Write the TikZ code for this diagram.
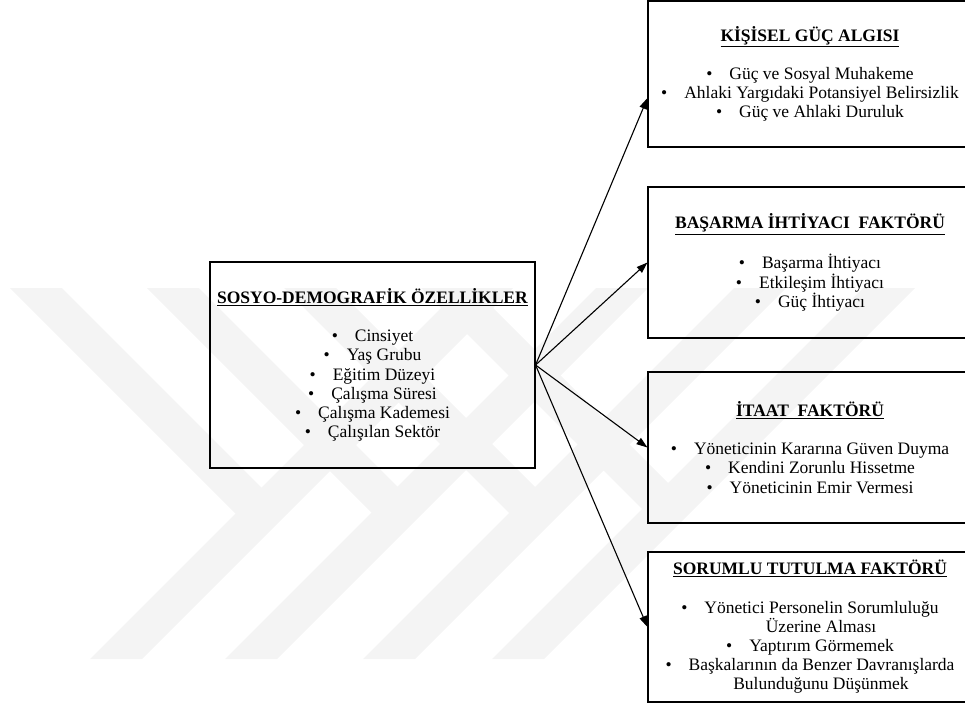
\documentclass[tikz,border=0pt]{standalone}
\usepackage{fontspec}
\setmainfont{Liberation Serif}
\usetikzlibrary{arrows.meta,positioning}
\definecolor{wmgray}{gray}{0.955}
\tikzset{
wmband/.style={fill=wmgray},
facbox/.style={draw, line width=1.1pt, align=center, inner sep=0pt, minimum width=324pt, minimum height=151pt},
srcbox/.style={facbox, minimum width=325pt, minimum height=206pt},
arr/.style={-{Triangle[length=11pt,width=7.5pt]}, line width=1.1pt},
}
\tikzstyle{every node}=[font=\fontsize{17.5}{19.2}\selectfont]
\newcommand{\itm}[1]{\textbullet\hspace{17pt}#1}
\newcommand{\baslik}[1]{\underline{\textbf{#1}}\\[19pt]}

\begin{document}
\begin{tikzpicture}[x=1pt,y=-1pt]
    \useasboundingbox (0,0) rectangle (965,709);

    \foreach \a/\b in {10/90,147/225,284/363,421/492}{
        \pgfmathsetmacro{\mx}{(371+\a+\b)/2}
        \pgfmathsetmacro{\my}{\mx+288-\a}
        \fill[wmband] (\a,288) -- ++(52,0) -- (\mx+52,\my) -- (\mx,\my) -- cycle;
        \fill[wmband] (\b,659) -- ++(52,0) -- (\b+423,288) -- (\b+371,288) -- cycle;
    }

    \node[srcbox] (src) at (372.5,365) {
        \baslik{SOSYO-DEMOGRAFİK ÖZELLİKLER}
        \itm{Cinsiyet}\\
        \itm{Yaş Grubu}\\
        \itm{Eğitim Düzeyi}\\
        \itm{Çalışma Süresi}\\
        \itm{Çalışma Kademesi}\\
        \itm{Çalışılan Sektör}};

    \node[facbox, minimum height=146pt] (guc) at (810,74) {
        \baslik{KİŞİSEL GÜÇ ALGISI}
        \itm{Güç ve Sosyal Muhakeme}\\
        \itm{Ahlaki Yargıdaki Potansiyel Belirsizlik}\\
        \itm{Güç ve Ahlaki Duruluk}};

    \node[facbox] (basarma) at (810,262.5) {
        \baslik{BAŞARMA İHTİYACI\ \ FAKTÖRÜ}
        \itm{Başarma İhtiyacı}\\
        \itm{Etkileşim İhtiyacı}\\
        \itm{Güç İhtiyacı}};

    \node[facbox] (itaat) at (810,447.5) {
        \baslik{İTAAT\ \ FAKTÖRÜ}
        \itm{Yöneticinin Kararına Güven Duyma}\\
        \itm{Kendini Zorunlu Hissetme}\\
        \itm{Yöneticinin Emir Vermesi}};

    \node[facbox, minimum height=150pt] (sorumlu) at (810,627) {
        \baslik{SORUMLU TUTULMA FAKTÖRÜ}
        \itm{Yönetici Personelin Sorumluluğu}\\
        \hspace*{22pt}Üzerine Alması\\
        \itm{Yaptırım Görmemek}\\
        \itm{Başkalarının da Benzer Davranışlarda}\\
        \hspace*{22pt}Bulunduğunu Düşünmek};

    \draw[arr] (src.east) -- ([yshift=-24pt]guc.west);
    \draw[arr] (src.east) -- (basarma.west);
    \draw[arr] (src.east) -- (itaat.west);
    \draw[arr] (src.east) -- (sorumlu.west);
\end{tikzpicture}
\end{document}
